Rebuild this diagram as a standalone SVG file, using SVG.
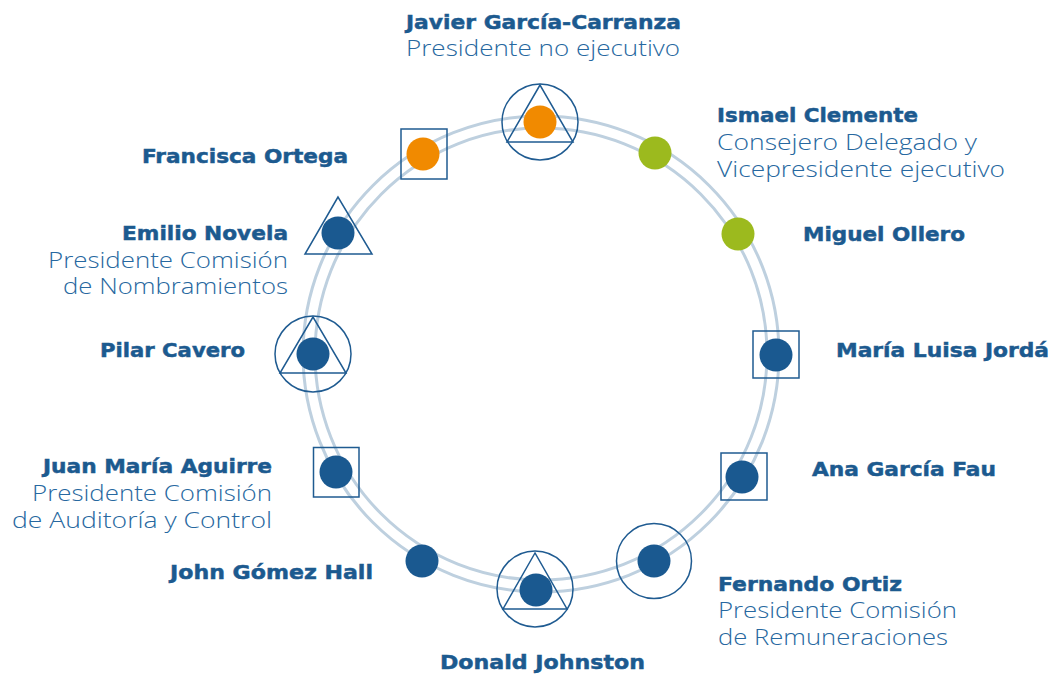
<svg xmlns="http://www.w3.org/2000/svg" width="1053" height="675" viewBox="0 0 1053 675">
<style>
.ring{fill:none;stroke:#bed0df;stroke-width:3}
.frame{fill:none;stroke:#1f5b91;stroke-width:1.5}
.dot{fill:#1a5990}
.dot.o{fill:#f18a00}
.dot.g{fill:#9cba1e}
text{font-size:21px;fill:#1c5a8f}
.b{font-family:"DejaVu Sans","Liberation Sans",sans-serif;font-weight:700;font-size:20px;stroke:#1c5a8f;stroke-width:0.5}
.r{font-family:"Open Sans","Liberation Sans",sans-serif;font-weight:300;fill:#2768a0;font-size:21.5px}
</style>
<rect width="1053" height="675" fill="#fff"/>
<g id="connectors">
<circle class="ring" cx="541" cy="354" r="238"/>
<circle class="ring" cx="541" cy="354" r="226"/>
</g>
<g id="javier">
<circle class="frame" cx="540" cy="122" r="38"/>
<polygon class="frame" points="540,85 507,142 573,142"/>
<circle class="dot o" cx="540" cy="122" r="16.5"/>
<text class="b" x="406" y="29" textLength="275" lengthAdjust="spacingAndGlyphs">Javier García-Carranza</text>
<text class="r" x="406" y="56" textLength="274" lengthAdjust="spacingAndGlyphs">Presidente no ejecutivo</text>
</g>
<g id="ismael">
<circle class="dot g" cx="655" cy="153" r="16.5"/>
<text class="b" x="717" y="122" textLength="201" lengthAdjust="spacingAndGlyphs">Ismael Clemente</text>
<text class="r" x="717" y="150" textLength="260" lengthAdjust="spacingAndGlyphs">Consejero Delegado y</text>
<text class="r" x="717" y="177" textLength="288" lengthAdjust="spacingAndGlyphs">Vicepresidente ejecutivo</text>
</g>
<g id="miguel">
<circle class="dot g" cx="738" cy="234" r="16.5"/>
<text class="b" x="803" y="241" textLength="162" lengthAdjust="spacingAndGlyphs">Miguel Ollero</text>
</g>
<g id="marialuisa">
<rect class="frame" x="753" y="331" width="46" height="47"/>
<circle class="dot" cx="776" cy="355" r="16.5"/>
<text class="b" x="836" y="357" textLength="213" lengthAdjust="spacingAndGlyphs">María Luisa Jordá</text>
</g>
<g id="ana">
<rect class="frame" x="721" y="453" width="46" height="47"/>
<circle class="dot" cx="742" cy="477" r="16.5"/>
<text class="b" x="812" y="476" textLength="184" lengthAdjust="spacingAndGlyphs">Ana García Fau</text>
</g>
<g id="fernando">
<circle class="frame" cx="654" cy="561" r="37.5"/>
<circle class="dot" cx="654" cy="561" r="16.5"/>
<text class="b" x="718" y="591" textLength="184" lengthAdjust="spacingAndGlyphs">Fernando Ortiz</text>
<text class="r" x="718" y="618" textLength="239" lengthAdjust="spacingAndGlyphs">Presidente Comisión</text>
<text class="r" x="718" y="645" textLength="230" lengthAdjust="spacingAndGlyphs">de Remuneraciones</text>
</g>
<g id="donald">
<circle class="frame" cx="535" cy="589" r="38"/>
<polygon class="frame" points="535,553 503,609 567,609"/>
<circle class="dot" cx="536" cy="590" r="16.5"/>
<text class="b" x="440" y="669" textLength="205" lengthAdjust="spacingAndGlyphs">Donald Johnston</text>
</g>
<g id="john">
<circle class="dot" cx="422" cy="561" r="16.5"/>
<text class="b" x="170" y="579" textLength="203" lengthAdjust="spacingAndGlyphs">John Gómez Hall</text>
</g>
<g id="juan">
<rect class="frame" x="313.5" y="447.5" width="45.5" height="49.5"/>
<circle class="dot" cx="336" cy="472" r="16.5"/>
<text class="b" x="43" y="473" textLength="229" lengthAdjust="spacingAndGlyphs">Juan María Aguirre</text>
<text class="r" x="32" y="501" textLength="240" lengthAdjust="spacingAndGlyphs">Presidente Comisión</text>
<text class="r" x="12" y="528" textLength="260" lengthAdjust="spacingAndGlyphs">de Auditoría y Control</text>
</g>
<g id="pilar">
<circle class="frame" cx="313" cy="354" r="38"/>
<polygon class="frame" points="313,317 280,373 346,373"/>
<circle class="dot" cx="313" cy="354" r="16.5"/>
<text class="b" x="100" y="357" textLength="145" lengthAdjust="spacingAndGlyphs">Pilar Cavero</text>
</g>
<g id="emilio">
<polygon class="frame" points="338,197 305,254 372,254"/>
<circle class="dot" cx="338" cy="233" r="16.5"/>
<text class="b" x="122" y="240" textLength="166" lengthAdjust="spacingAndGlyphs">Emilio Novela</text>
<text class="r" x="48" y="268" textLength="240" lengthAdjust="spacingAndGlyphs">Presidente Comisión</text>
<text class="r" x="63" y="294" textLength="225" lengthAdjust="spacingAndGlyphs">de Nombramientos</text>
</g>
<g id="francisca">
<rect class="frame" x="401" y="129" width="46" height="50"/>
<circle class="dot o" cx="423" cy="154" r="16.5"/>
<text class="b" x="142" y="163" textLength="206" lengthAdjust="spacingAndGlyphs">Francisca Ortega</text>
</g>
</svg>
